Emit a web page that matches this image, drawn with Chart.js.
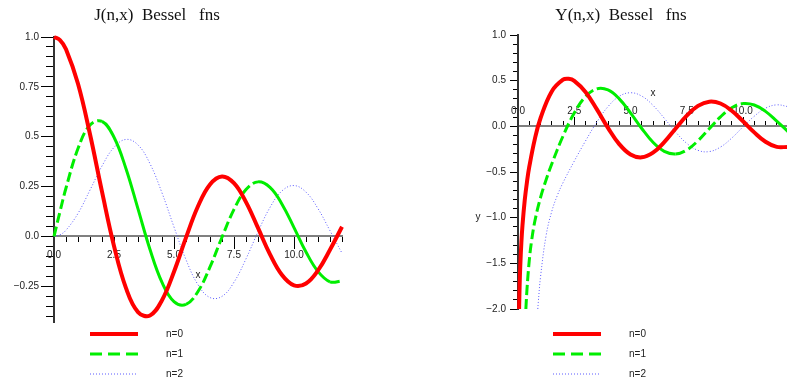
<!DOCTYPE html>
<html>
<head>
<meta charset="utf-8">
<script src="https://cdn.jsdelivr.net/npm/chart.js@4/dist/chart.umd.min.js"></script>
<style>
  html, body { margin: 0; padding: 0; background: #fff; overflow: hidden; }
  #wrap { position: relative; width: 787px; height: 382px; overflow: hidden; }
  canvas { position: absolute; top: 0; }
  #left { left: 0; }
  #right { left: 394px; }
</style>
</head>
<body>
<div id="wrap">
  <canvas id="left" width="394" height="382"></canvas>
  <canvas id="right" width="396" height="382"></canvas>
</div>
<script>
// J(n,x) panel, sampled every 0.5 (plus 0.25 near the origin)
const jX = [0, 0.25, 0.5, 1, 1.5, 2, 2.5, 3, 3.5, 4, 4.5, 5, 5.5, 6, 6.5, 7, 7.5, 8, 8.5, 9, 9.5, 10, 10.5, 11, 11.5, 12];
const j0 = [1.0, 0.9844, 0.9385, 0.7652, 0.5118, 0.2239, -0.0484, -0.2601, -0.3801, -0.3971, -0.3205, -0.1776, -0.0068, 0.1506,
  0.2601, 0.3001, 0.2663, 0.1717, 0.0419, -0.0903, -0.1939, -0.2459, -0.2366, -0.1712, -0.0677, 0.0477];
const j1 = [0, 0.1240, 0.2423, 0.4401, 0.5579, 0.5767, 0.4971, 0.3391, 0.1374, -0.0660, -0.2311, -0.3276, -0.3414, -0.2767,
  -0.1538, -0.0047, 0.1352, 0.2346, 0.2731, 0.2453, 0.1613, 0.0435, -0.0789, -0.1768, -0.2284, -0.2234];
const j2 = [0, 0.0078, 0.0306, 0.1149, 0.2321, 0.3528, 0.4461, 0.4861, 0.4586, 0.3641, 0.2178, 0.0466, -0.1173, -0.2429,
  -0.3074, -0.3014, -0.2303, -0.1130, 0.0223, 0.1448, 0.2279, 0.2546, 0.2216, 0.1390, 0.0279, -0.0849];

// Y(n,x) panel, each curve starts where it enters the plot at y = -2
const yTail = [2.5, 3, 3.5, 4, 4.5, 5, 5.5, 6, 6.5, 7, 7.5, 8, 8.5, 9, 9.5, 10, 10.5, 11, 11.5, 12];
const y0X = [0.048, 0.07, 0.1, 0.15, 0.2, 0.3, 0.4, 0.5, 0.75, 1, 1.5, 2, 2.25].concat(yTail);
const y0 = [-2.0, -1.767, -1.5342, -1.271, -1.0811, -0.8073, -0.6060, -0.4445, -0.1375, 0.0883, 0.3824, 0.5104, 0.5200,
  0.4981, 0.3769, 0.1890, -0.0169, -0.1947, -0.3085, -0.3395, -0.2882, -0.1732, -0.0259, 0.1173, 0.2235, 0.2702,
  0.2499, 0.1712, 0.0557, -0.0660, -0.1688, -0.2250, -0.2252];
const y1X = [0.35, 0.4, 0.5, 0.6, 0.75, 1, 1.25, 1.5, 2].concat(yTail);
const y1 = [-2.0, -1.781, -1.4715, -1.2604, -1.0371, -0.7812, -0.5846, -0.4123, -0.1070,
  0.1459, 0.3247, 0.4102, 0.3979, 0.3010, 0.1479, -0.0238, -0.1750, -0.2741, -0.3027, -0.2591, -0.1581, -0.0262,
  0.1043, 0.2032, 0.2490, 0.2337, 0.1637, 0.0579, -0.0571];
const y2X = [0.88, 0.9, 1, 1.25, 1.5, 1.75, 2].concat(yTail);
const y2 = [-2.0, -1.932, -1.6507, -1.1936, -0.9321, -0.7553, -0.6174,
  -0.3813, -0.1604, 0.0454, 0.2159, 0.3285, 0.3677, 0.3308, 0.2299, 0.0889, -0.0606, -0.1864, -0.2630, -0.2764,
  -0.2267, -0.1284, -0.0059, 0.1105, 0.1986, 0.2351, 0.2157];

const legendLabels = ['n=0', 'n=1', 'n=2'];

const RED = '#ff0000';
const GREEN = '#00ee00';
const BLUE = '#5a5aff';
const TEXT = '#222';

Chart.defaults.font.family = '"Liberation Sans", Helvetica, Arial, sans-serif';
Chart.defaults.font.size = 10;
Chart.defaults.color = TEXT;

const pts = (xs, ys) => xs.map((x, i) => ({ x, y: ys[i] }));

const fmt = (v) => {
  const a = Math.abs(v);
  const s = Number.isInteger(a) ? a.toFixed(1) : String(a);
  return (v < 0 ? '\u2212' : '') + s;
};

const risingDash = { borderDash: (c) => (c.p1.parsed.y > c.p0.parsed.y ? [10, 4] : undefined) };

function series(xsList, ysList) {
  return [
    { label: legendLabels[0], data: pts(xsList[0], ysList[0]), borderColor: RED, borderWidth: 4 },
    { label: legendLabels[1], data: pts(xsList[1], ysList[1]), borderColor: GREEN, borderWidth: 3, segment: risingDash },
    { label: legendLabels[2], data: pts(xsList[2], ysList[2]), borderColor: BLUE, borderWidth: 1, borderDash: [1, 2] },
  ].map((d) => ({ ...d, pointRadius: 0, tension: 0.4, clip: false, fill: false }));
}

// titles, axis names and legend
const textPlugin = {
  id: 'texts',
  afterDraw(chart, args, o) {
    const ctx = chart.ctx;
    const xs = chart.scales.x;
    const ys = chart.scales.y;
    const x0 = xs.getPixelForValue(0);
    const yAxis = ys.getPixelForValue(0);
    ctx.save();
    ctx.fillStyle = '#111';
    ctx.font = '17px "Liberation Serif", "Times New Roman", serif';
    ctx.textAlign = 'center';
    ctx.textBaseline = 'alphabetic';
    ctx.fillText(o.title, o.titleX, 20);

    ctx.fillStyle = TEXT;
    ctx.font = '10px "Liberation Sans", Helvetica, Arial, sans-serif';
    ctx.textBaseline = 'middle';
    ctx.fillText('x', xs.getPixelForValue(6), yAxis + o.xNameDy);
    if (o.yName) ctx.fillText('y', x0 - 40, ys.getPixelForValue(-1));

    chart.data.datasets.forEach((d, i) => {
      const ly = 334 + i * 20;
      ctx.beginPath();
      ctx.strokeStyle = d.borderColor;
      ctx.lineWidth = d.borderWidth;
      ctx.setLineDash(i === 1 ? [12, 6] : (d.borderDash || []));
      ctx.moveTo(o.legendX, ly);
      ctx.lineTo(o.legendX + 48, ly);
      ctx.stroke();
      ctx.setLineDash([]);
      ctx.textAlign = 'left';
      ctx.fillText(d.label, o.legendX + 76, ly);
    });
    ctx.restore();
  },
};

function makeScales(yMin, yMax, yMajor, yMinor, t) {
  const noGrid = { drawOnChartArea: false, color: '#000', lineWidth: 1 };
  return {
    x: {
      type: 'linear', min: 0, max: 12, position: { y: 0 },
      ticks: { stepSize: 2.5, includeBounds: false, autoSkip: false, maxRotation: 0, padding: t.xPad, callback: fmt, color: TEXT },
      grid: { ...noGrid, tickLength: t.xMajor },
      border: { color: '#808080', width: 2 },
    },
    xm: {
      type: 'linear', min: 0, max: 12, position: { y: 0 },
      ticks: { stepSize: 0.5, display: false },
      grid: { ...noGrid, tickLength: t.xMinor },
      border: { display: false },
    },
    y: {
      type: 'linear', min: yMin, max: yMax, position: 'left',
      afterFit: (s) => { s.width = 50; },
      ticks: { stepSize: yMajor, includeBounds: false, autoSkip: false, padding: t.yPad, callback: fmt, color: TEXT },
      grid: { ...noGrid, tickLength: t.yMajor },
      border: { color: '#333', width: 2 },
    },
    ym: {
      type: 'linear', min: yMin, max: yMax, position: { x: 0 },
      ticks: { stepSize: yMinor, includeBounds: false, display: false },
      grid: { ...noGrid, tickLength: t.yMinor },
      border: { display: false },
    },
  };
}

new Chart(document.getElementById('left'), {
  type: 'line',
  data: { datasets: series([jX, jX, jX], [j0, j1, j2]) },
  options: {
    responsive: false,
    animation: false,
    devicePixelRatio: 1,
    layout: { padding: { left: 4, right: 52, top: 37, bottom: 60 } },
    scales: makeScales(-0.43, 1.0, 0.25, 0.05, { xMajor: 12, xMinor: 6, xPad: 1, yMajor: 13, yMinor: 8, yPad: 2 }),
    plugins: {
      legend: { display: false },
      tooltip: { enabled: false },
      texts: { title: 'J(n,x)  Bessel   fns', titleX: 157, xNameDy: 39, yName: false, legendX: 90 },
    },
  },
  plugins: [textPlugin],
});

new Chart(document.getElementById('right'), {
  type: 'line',
  data: { datasets: series([y0X, y1X, y2X], [y0, y1, y2]) },
  options: {
    responsive: false,
    animation: false,
    devicePixelRatio: 1,
    layout: { padding: { left: 74, right: 2, top: 35, bottom: 73 } },
    scales: makeScales(-2, 1, 0.5, 0.1, { xMajor: -10, xMinor: -5, xPad: -11, yMajor: 8, yMinor: 5, yPad: 4 }),
    plugins: {
      legend: { display: false },
      tooltip: { enabled: false },
      texts: { title: 'Y(n,x)  Bessel   fns', titleX: 227, xNameDy: -33, yName: true, legendX: 159 },
    },
  },
  plugins: [textPlugin],
});
</script>
</body>
</html>
